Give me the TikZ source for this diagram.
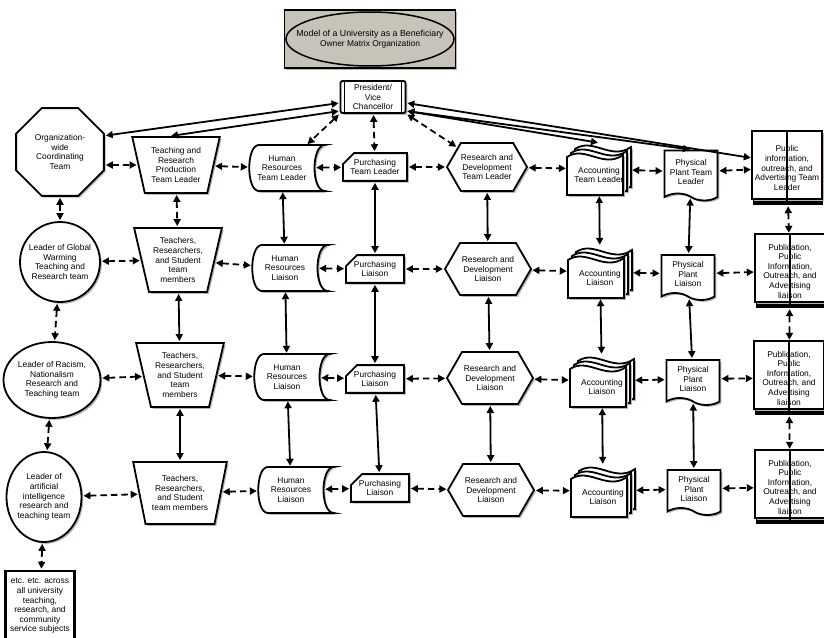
\documentclass[tikz,border=0pt]{standalone}
\usepackage{fontspec}
\setmainfont{Liberation Sans}
\usetikzlibrary{arrows.meta, calc, shadows, shapes.geometric, shapes.misc, shapes.symbols}

\definecolor{titlegray}{RGB}{199,195,184}
\definecolor{shadowgray}{RGB}{188,178,174}

% stored data symbol, hollow on the right
\newcommand\storednode[3]{%
  \path[shapeline]
    ($(#2)+(-23,23)$) -- ($(#2)+(43,23)$)
    .. controls ($(#2)+(29,23)$) and ($(#2)+(29,-23)$) .. ($(#2)+(43,-23)$)
    -- ($(#2)+(-23,-23)$)
    .. controls ($(#2)+(-36,-23)$) and ($(#2)+(-36,23)$) .. cycle;
  \node[plain, minimum width=66pt, minimum height=46pt] (#1) at (#2) {#3};
}
% a stack of three wavy pages
\newcommand\multidocnode[3]{%
  \foreach \s in {8,4,0} {
    \path[shapeline]
      ($(#2)+(-32+\s,-26+\s)$) -- ($(#2)+(-32+\s,12+\s)$)
      .. controls ($(#2)+(-14+\s,24+\s)$) and ($(#2)+(4+\s,0+\s)$) .. ($(#2)+(24+\s,14+\s)$)
      -- ($(#2)+(24+\s,-26+\s)$) -- cycle;
  }
  \node[plain, minimum width=64pt, minimum height=52pt] (#1) at (#2)
    {\raisebox{-9pt}[0pt][0pt]{\begin{tabular}{@{}c@{}}#3\end{tabular}}};
}
% open book with a dark edge of pages
\newcommand\booknode[3]{%
  \fill ($(#2)+(-34,-37)$) rectangle ($(#2)+(36,-28)$);
  \path[shapeline] ($(#2)+(-35,37)$) rectangle ($(#2)+(35,-31)$);
  \draw[line width=1.8pt] ($(#2)+(0,37)$) -- ($(#2)+(0,-37)$);
  \node[plain, minimum width=70pt, minimum height=74pt] (#1) at (#2) {#3};
}

\begin{document}
\begin{tikzpicture}[
    x = 1pt, y = 1pt,
    font = \fontsize{8.4}{9.6}\selectfont,
    >= {Triangle[length=7pt, width=7pt]},
    shapeline/.style = {draw, line width=1.8pt, fill=white,
                        drop shadow={shadow xshift=1.8pt, shadow yshift=-1.8pt, fill=shadowgray, opacity=1}},
    plain/.style  = {inner sep=1pt, align=center},
    box/.style    = {shapeline, plain},
    titlebox/.style = {draw, line width=1.8pt, fill=titlegray, align=center,
                       minimum width=171pt, minimum height=58pt,
                       drop shadow={shadow xshift=1.8pt, shadow yshift=-1.8pt, fill=shadowgray, opacity=1}},
    predef/.style = {rectangle, rounded corners=2pt, minimum width=65pt, minimum height=32pt, inner sep=0pt},
    octo/.style   = {regular polygon, regular polygon sides=8, minimum size=95pt, inner sep=0pt},
    trap/.style   = {trapezium, trapezium stretches=true, shape border rotate=180,
                     trapezium left angle=74, trapezium right angle=74,
                     minimum width=88pt, minimum height=64pt, inner sep=0pt},
    manual/.style = {chamfered rectangle, chamfered rectangle corners=north west,
                     chamfered rectangle xsep=6pt, chamfered rectangle ysep=5pt,
                     minimum width=58pt, minimum height=24pt, inner sep=1pt},
    hexa/.style   = {signal, signal to=east and west, signal pointer angle=120,
                     minimum width=86pt, minimum height=52pt, inner sep=0pt},
    docu/.style   = {tape, tape bend top=none, tape bend bottom=out and in, tape bend height=7pt,
                     minimum width=53pt, minimum height=45pt, inner sep=1pt},
    etcbox/.style = {box, line width=2.6pt, minimum width=69pt, minimum height=70pt, inner sep=0pt},
    link/.style   = {<->, line width=1.8pt, shorten <=1pt, shorten >=1pt},
    dlink/.style  = {link, dash pattern=on 6.5pt off 4pt}
  ]
  \useasboundingbox (0,0) rectangle (824,-637);
  % title and head of the organization
  \node[titlebox] (title) at (370,-39)
    {\fontsize{8.8}{10.5}\selectfont Model of a University as a Beneficiary\\Owner Matrix Organization};
  \draw[line width=1.5pt] (title.center) ellipse [x radius=84pt, y radius=27pt];
  \node[box, predef] (pres) at (373,-97) {President/\\Vice\\Chancellor};
  \draw[line width=1.3pt] ([xshift=5pt]pres.north west) -- ([xshift=5pt]pres.south west);
  \draw[line width=1.3pt] ([xshift=-5pt]pres.north east) -- ([xshift=-5pt]pres.south east);
  % team leaders
  \node[box, octo] (lead0) at (60,-152) {Organization-\\wide\\Coordinating\\Team};
  \node[box, trap, minimum height=56pt] (trap0) at (176,-165) {Teaching and\\Research\\Production\\Team Leader};
  \storednode{hr0}{282,-168}{Human\\Resources\\Team Leader}
  \node[box, manual, minimum width=64pt, minimum height=27pt] (pur0) at (375,-167) {Purchasing\\Team Leader};
  \node[box, hexa, minimum width=80pt, minimum height=48pt] (rd0) at (487,-167) {Research and\\Development\\Team Leader};
  \multidocnode{acc0}{599,-169}{Accounting\\Team Leader}
  \node[box, docu, minimum height=50pt] (pp0) at (691,-172) {Physical\\Plant Team\\Leader};
  \booknode{book0}{787,-168}{Public\\information,\\outreach, and\\Advertising Team\\Leader}
  % first row of liaisons
  \node[box, circle, minimum size=80pt, inner sep=0pt] (lead1) at (60,-262) {Leader of Global\\Warming\\Teaching and\\Research team};
  \node[box, trap] (trap1) at (178,-260) {Teachers,\\Researchers,\\and Student\\team\\members};
  \storednode{hr1}{285,-268}{Human\\Resources\\Liaison}
  \node[box, manual] (pur1) at (375,-269) {Purchasing\\Liaison};
  \node[box, hexa] (rd1) at (488,-269) {Research and\\Development\\Liaison};
  \multidocnode{acc1}{600,-272}{Accounting\\Liaison}
  \node[box, docu] (pp1) at (688,-274) {Physical\\Plant\\Liaison};
  \booknode{book1}{790,-271}{Publication,\\Public\\Information,\\Outreach, and\\Advertising\\liaison}
  % second row of liaisons
  \node[box, ellipse, minimum width=97pt, minimum height=76pt, inner sep=0pt] (lead2) at (52,-380) {Leader of Racism,\\Nationalism\\Research and\\Teaching team};
  \node[box, trap] (trap2) at (180,-375) {Teachers,\\Researchers,\\and Student\\team\\members};
  \storednode{hr2}{287,-377}{Human\\Resources\\Liaison}
  \node[box, manual] (pur2) at (375,-379) {Purchasing\\Liaison};
  \node[box, hexa] (rd2) at (490,-378) {Research and\\Development\\Liaison};
  \multidocnode{acc2}{602,-381}{Accounting\\Liaison}
  \node[box, docu] (pp2) at (693,-379) {Physical\\Plant\\Liaison};
  \booknode{book2}{789,-378}{Publication,\\Public\\Information,\\Outreach, and\\Advertising\\liaison}
  % third row of liaisons
  \node[box, ellipse, minimum width=75pt, minimum height=90pt, inner sep=0pt] (lead3) at (44,-497) {Leader of\\artificial\\intelligence\\research and\\teaching team};
  \node[box, trap, minimum width=94pt, minimum height=62pt] (trap3) at (180,-493) {Teachers,\\Researchers,\\and Student\\team members};
  \storednode{hr3}{291,-490}{Human\\Resources\\Liaison}
  \node[box, manual] (pur3) at (380,-488) {Purchasing\\Liaison};
  \node[box, hexa] (rd3) at (491,-490) {Research and\\Development\\Liaison};
  \multidocnode{acc3}{603,-491}{Accounting\\Liaison}
  \node[box, docu] (pp3) at (694,-489) {Physical\\Plant\\Liaison};
  \booknode{book3}{790,-487}{Publication,\\Public\\Information,\\Outreach, and\\Advertising\\liaison}
  \node[etcbox] (etc) at (40,-606) {etc. etc. across\\all university\\teaching,\\research, and\\community\\service subjects};
  % links of the president
  \draw[dlink] (pres) -- (pur0);
  \draw[dlink] (pres.south west) -- (hr0);
  \draw[dlink] (pres.south east) -- (rd0);
  \draw[link] ([yshift=-6pt]pres.west) -- (lead0.20);
  \draw[link] ([yshift=-14pt]pres.west) -- ([xshift=-6pt]trap0.north);
  \draw[link] ([yshift=-6pt]pres.east) -- ([yshift=10pt]book0.west);
  \draw[link] ([yshift=-14pt]pres.east) -- (pp0.north);
  \draw[link] ([yshift=-14pt]pres.east) -- (acc0.north);
  % links along the rows
  \draw[dlink] (lead0.east |- trap0) -- (trap0);
  \draw[dlink] (trap0) -- (hr0);
  \draw[dlink] (hr0) -- (pur0);
  \draw[dlink] (pur0) -- (rd0);
  \draw[dlink] (rd0) -- (acc0);
  \draw[dlink] (acc0) -- (pp0);
  \draw[dlink] (pp0) -- (book0);
  \draw[dlink] (lead1) -- (trap1);
  \draw[dlink] (trap1) -- (hr1);
  \draw[dlink] (hr1) -- (pur1);
  \draw[dlink] (pur1) -- (rd1);
  \draw[dlink] (rd1) -- (acc1);
  \draw[dlink] (acc1) -- (pp1);
  \draw[dlink] (pp1) -- (book1);
  \draw[dlink] (lead2) -- (trap2);
  \draw[dlink] (trap2) -- (hr2);
  \draw[dlink] (hr2) -- (pur2);
  \draw[dlink] (pur2) -- (rd2);
  \draw[dlink] (rd2) -- (acc2);
  \draw[dlink] (acc2) -- (pp2);
  \draw[dlink] (pp2) -- (book2);
  \draw[dlink] (lead3) -- (trap3);
  \draw[dlink] (trap3) -- (hr3);
  \draw[dlink] (hr3) -- (pur3);
  \draw[dlink] (pur3) -- (rd3);
  \draw[dlink] (rd3) -- (acc3);
  \draw[dlink] (acc3) -- (pp3);
  \draw[dlink] (pp3) -- (book3);
  % links down the columns
  \draw[dlink] (lead0) -- (lead1);
  \draw[dlink] (lead1) -- (lead2);
  \draw[dlink] (lead2) -- (lead3);
  \draw[dlink] (lead3) -- (etc);
  \draw[dlink] (trap0) -- (trap1);
  \draw[link]  (trap1) -- (trap2);
  \draw[link]  (trap2) -- (trap3);
  \draw[link]  (hr0) -- (hr1);
  \draw[link]  (hr1) -- (hr2);
  \draw[link]  (hr2) -- (hr3);
  \draw[link]  (pur0) -- (pur1);
  \draw[link]  (pur1) -- (pur2);
  \draw[link]  (pur2) -- (pur3);
  \draw[link]  (rd0) -- (rd1);
  \draw[link]  (rd1) -- (rd2);
  \draw[link]  (rd2) -- (rd3);
  \draw[link]  (acc0) -- (acc1);
  \draw[link]  (acc1) -- (acc2);
  \draw[link]  (acc2) -- (acc3);
  \draw[link]  (pp0) -- (pp1);
  \draw[link]  (pp1) -- (pp2);
  \draw[link]  (pp2) -- (pp3);
  \draw[dlink] (book0) -- (book1);
  \draw[dlink] (book1) -- (book2);
  \draw[dlink] (book2) -- (book3);
\end{tikzpicture}
\end{document}
